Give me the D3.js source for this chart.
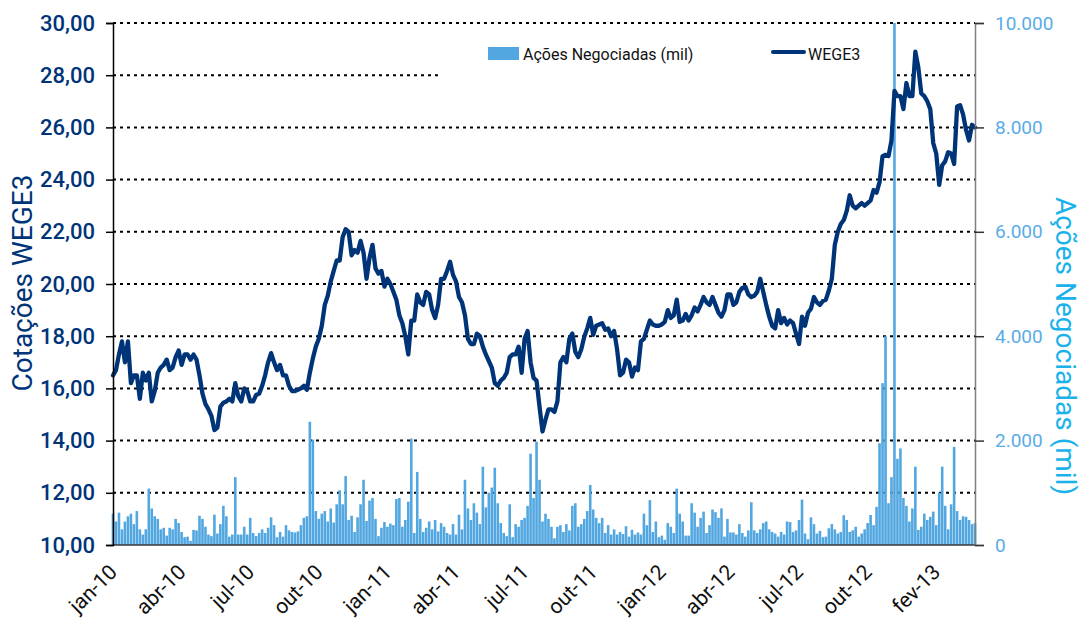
<!DOCTYPE html>
<html>
<head>
<meta charset="utf-8">
<script src="https://cdn.jsdelivr.net/npm/d3@7"></script>
<style>
  html, body { margin: 0; padding: 0; background: #ffffff; }
  svg { display: block; }
</style>
</head>
<body>
<svg id="chart" width="1081" height="625"></svg>
<script>
// ---- DATA (each point ~ 3 trading days, jan-10 .. mai-13) ----
const quarterLabels = ["jan-10","abr-10","jul-10","out-10","jan-11","abr-11","jul-11","out-11","jan-12","abr-12","jul-12","out-12","fev-13"];
const labelIndex = [0,23,46,69,92,115,138,161,184,207,230,253,276];

const leftTicks = [10,12,14,16,18,20,22,24,26,28,30];
const rightTicks = [0,2000,4000,6000,8000,10000];

// WEGE3 closing price (R$)
const price = [
  16.5,16.7,17.3,17.8,17.0,17.8,16.2,16.5,16.5,15.6,
  16.6,16.3,16.6,15.5,15.9,16.6,16.8,16.9,17.1,16.7,
  16.8,17.2,17.45,16.9,17.3,17.3,17.1,17.3,17.1,16.5,
  15.8,15.4,15.2,14.95,14.4,14.5,15.3,15.45,15.5,15.6,
  15.5,16.2,15.7,15.5,16.0,15.9,15.5,15.5,15.75,15.8,
  16.1,16.5,17.0,17.35,17.0,16.7,16.9,16.5,16.5,16.1,
  15.9,15.9,15.95,16.0,16.1,15.95,16.6,17.15,17.6,17.9,
  18.4,19.2,19.55,20.1,20.5,20.9,20.9,21.8,22.1,22.0,
  21.1,21.3,21.2,21.65,21.2,20.2,21.0,21.5,20.6,20.4,
  20.5,19.9,20.2,20.0,19.7,19.4,18.8,18.5,18.0,17.3,
  18.6,18.6,19.6,19.3,19.2,19.7,19.6,19.0,18.7,19.2,
  20.2,20.2,20.5,20.85,20.35,20.1,19.5,19.3,18.8,17.9,
  17.7,17.7,18.1,18.0,17.6,17.3,17.05,16.8,16.2,16.1,
  16.3,16.4,16.6,17.2,17.3,17.3,17.6,16.6,17.9,18.2,
  17.0,16.4,16.3,15.3,14.35,14.8,15.2,15.2,15.1,15.5,
  17.0,17.2,17.0,17.9,18.1,17.4,17.2,17.5,17.98,18.3,
  18.7,18.05,18.4,18.45,18.5,18.25,18.3,18.0,18.2,17.5,
  16.5,16.6,17.1,17.0,16.45,16.8,16.7,17.8,17.9,18.25,
  18.6,18.45,18.4,18.4,18.45,18.55,19.0,18.7,18.8,19.4,
  18.55,18.6,18.85,18.6,18.8,19.1,18.95,19.2,19.5,19.3,
  19.2,19.5,19.2,18.9,18.75,19.0,19.6,19.6,19.2,19.3,
  19.7,19.85,19.9,19.6,19.5,19.55,19.7,20.2,19.7,19.2,
  18.75,18.4,18.3,19.0,18.5,18.7,18.45,18.6,18.5,18.1,
  17.7,18.75,18.4,18.9,19.05,19.5,19.3,19.2,19.35,19.4,
  19.75,20.2,21.5,22.0,22.3,22.45,22.8,23.4,23.0,22.9,
  23.0,23.1,23.0,23.1,23.2,23.6,23.5,23.9,24.9,24.95,
  24.9,25.5,27.4,27.2,27.2,26.7,27.7,27.2,27.2,28.9,
  28.3,27.3,27.2,27.0,26.7,25.4,25.0,23.8,24.55,24.7,
  25.05,25.0,24.6,26.8,26.85,26.5,25.9,25.5,26.1,26.0
];

// Shares traded (thousands)
const volume = [
  600,450,620,300,450,550,600,400,650,300,
  200,300,1080,700,550,500,300,330,180,330,
  300,500,420,250,150,160,80,290,280,560,
  500,350,200,170,580,220,400,750,550,160,
  200,1300,200,200,350,200,520,230,170,230,
  300,230,330,530,380,150,250,160,380,280,
  250,240,260,380,520,550,2360,2020,650,500,
  600,650,450,700,430,780,1050,780,1320,480,
  560,250,530,780,1250,460,850,900,500,170,
  330,440,350,410,380,880,900,350,480,830,
  2040,230,1400,500,250,330,450,300,480,260,
  420,350,230,200,400,200,580,300,1250,700,
  480,800,620,400,1500,720,1000,1100,1480,800,
  420,230,170,780,150,400,350,480,520,750,
  1750,900,1980,1250,450,600,500,350,130,350,
  380,250,400,280,750,800,350,400,500,650,
  1150,680,520,420,520,230,380,200,300,200,
  250,210,360,160,290,200,240,200,600,380,
  860,250,450,150,180,100,420,350,230,1080,
  600,450,180,180,800,620,350,520,640,230,
  380,680,630,520,700,160,500,240,240,200,
  400,230,160,280,820,280,230,300,420,450,
  300,250,220,160,250,200,450,440,250,280,
  480,870,220,110,530,400,220,270,150,160,
  320,400,300,220,250,570,480,250,280,350,
  160,220,300,420,575,380,730,1950,3100,4000,
  800,1300,10000,1650,1850,900,750,450,700,1500,
  290,350,600,480,540,640,380,1000,1500,750,
  300,780,1880,650,480,550,540,480,400,420
];

const seriesNames = ["Ações Negociadas (mil)", "WEGE3"];
const axisTitles = ["Cotações WEGE3", "Ações Negociadas (mil)"];

// ---- LAYOUT ----
const svg = d3.select("#chart");
const L = 113, R = 975, T = 23, B = 545;
const C = { navy: "#003478", bar: "#52A7E0", rightTick: "#5AADE6", rightTitle: "#1AB2EA" };
const FONT = "Roboto, 'Liberation Sans', Arial, sans-serif";

const ptBR = d3.formatLocale({ decimal: ",", thousands: ".", grouping: [3], currency: ["R$ ", ""] });
const fmtL = ptBR.format(".2f");
const fmtR = ptBR.format(",.0f");

const x = d3.scaleLinear().domain([0, price.length - 1]).range([L, R]);
const yL = d3.scaleLinear().domain([10, 30]).range([B, T]);
const yR = d3.scaleLinear().domain([0, 10000]).range([B, T]);

// gridlines
svg.append("g").selectAll("line")
  .data(leftTicks.filter(d => d > 10))
  .join("line")
  .attr("x1", L).attr("x2", R)
  .attr("y1", d => yL(d)).attr("y2", d => yL(d))
  .attr("stroke", "#000").attr("stroke-width", 2)
  .attr("stroke-dasharray", "3,4");

// legend background (hides part of the 28,00 gridline)
svg.append("rect").attr("x", 442).attr("y", 36).attr("width", 452).attr("height", 60).attr("fill", "#fff");

// volume bars
svg.append("g").selectAll("rect")
  .data(volume)
  .join("rect")
  .attr("x", (d, i) => x(i) - 1.3)
  .attr("width", 2.6)
  .attr("y", d => yR(d))
  .attr("height", d => B - yR(d))
  .attr("fill", C.bar);

// price line
svg.append("path")
  .datum(price)
  .attr("d", d3.line().x((d, i) => x(i)).y(d => yL(d)))
  .attr("fill", "none")
  .attr("stroke", C.navy)
  .attr("stroke-width", 4.3)
  .attr("stroke-linejoin", "round")
  .attr("stroke-linecap", "round");

// baseline
svg.append("line").attr("x1", L).attr("x2", R).attr("y1", B).attr("y2", B)
  .attr("stroke", "#3a3a3a").attr("stroke-width", 1.5);

// left axis
const gl = svg.append("g").attr("transform", `translate(${L},0)`)
  .call(d3.axisLeft(yL).tickValues(leftTicks).tickFormat(fmtL).tickSize(7).tickPadding(11));
gl.select(".domain").attr("stroke", "#000").attr("stroke-width", 1.5);
gl.selectAll(".tick line").attr("stroke", "#000").attr("stroke-width", 1.5);
gl.selectAll(".tick text").attr("fill", C.navy).style("font-family", FONT)
  .style("font-size", "22px").style("font-weight", 500);

// right axis
const gr = svg.append("g").attr("transform", `translate(${R},0)`)
  .call(d3.axisRight(yR).tickValues(rightTicks).tickFormat(fmtR).tickSize(9).tickPadding(11));
gr.select(".domain").attr("stroke", "#808080").attr("stroke-width", 1.5);
gr.selectAll(".tick line").attr("stroke", "#333").attr("stroke-width", 1.5);
gr.selectAll(".tick text").attr("fill", C.rightTick).style("font-family", FONT)
  .style("font-size", "19px");

// x labels
svg.append("g").selectAll("text")
  .data(labelIndex)
  .join("text")
  .attr("transform", d => `translate(${x(d) - 5},${B + 18}) rotate(-45)`)
  .attr("text-anchor", "end")
  .attr("dy", "0.7em")
  .style("font-family", FONT)
  .style("font-size", "21px")
  .attr("fill", "#111")
  .text((d, i) => quarterLabels[i]);

// axis titles
svg.append("text")
  .attr("transform", `translate(32,283) rotate(-90)`)
  .attr("text-anchor", "middle")
  .style("font-family", FONT)
  .style("font-size", "28px").attr("fill", C.navy)
  .text(axisTitles[0]);

svg.append("text")
  .attr("transform", `translate(1056,346) rotate(90)`)
  .attr("text-anchor", "middle")
  .style("font-family", FONT)
  .style("font-size", "28px").attr("fill", C.rightTitle)
  .text(axisTitles[1]);

// legend
const lg = svg.append("g").style("font-family", FONT).style("font-size", "16px");
lg.append("rect").attr("x", 488).attr("y", 47).attr("width", 31).attr("height", 13).attr("fill", C.bar);
lg.append("text").attr("x", 523).attr("y", 60).attr("fill", "#111").text(seriesNames[0]);
lg.append("line").attr("x1", 773).attr("x2", 804).attr("y1", 52).attr("y2", 52)
  .attr("stroke", C.navy).attr("stroke-width", 4).attr("stroke-linecap", "round");
lg.append("text").attr("x", 808).attr("y", 60).attr("fill", "#111").text(seriesNames[1]);
</script>
</body>
</html>
